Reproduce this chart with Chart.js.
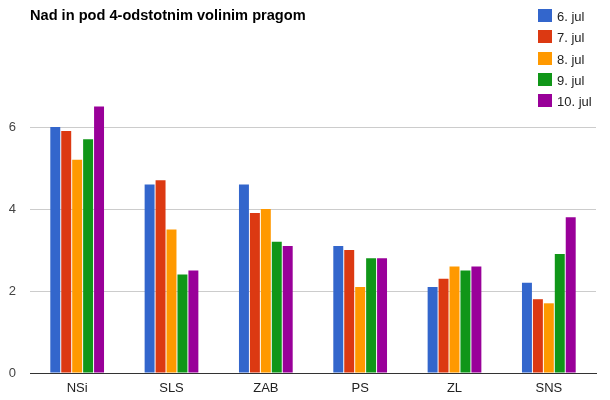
<!DOCTYPE html>
<html>
<head>
<meta charset="utf-8">
<script src="https://cdn.jsdelivr.net/npm/chart.js@4.4.1/dist/chart.umd.min.js"></script>
<style>
  html, body { margin: 0; padding: 0; background: #fff; }
  #wrap { position: relative; width: 610px; height: 400px; }
  #title { position: absolute; left: 30px; top: 7px; font: bold 14.6px "Liberation Sans", Arial, sans-serif; color: #000; white-space: nowrap; }
  #legend { position: absolute; left: 538px; top: 9px; font: 13px "Liberation Sans", Arial, sans-serif; color: #222; }
  .li { height: 21.3px; display: flex; align-items: flex-start; }
  .sw { width: 14px; height: 13px; margin-right: 5px; }
  .lt { line-height: 15px; }
</style>
</head>
<body>
<div id="wrap">
  <canvas id="c" width="610" height="400"></canvas>
  <div id="title"></div>
  <div id="legend"></div>
</div>
<script>
const title = "Nad in pod 4-odstotnim volinim pragom";
const categories = ["NSi", "SLS", "ZAB", "PS", "ZL", "SNS"];
const seriesNames = ["6. jul", "7. jul", "8. jul", "9. jul", "10. jul"];
const jul6  = [6.0, 4.6, 4.6, 3.1, 2.1, 2.2];
const jul7  = [5.9, 4.7, 3.9, 3.0, 2.3, 1.8];
const jul8  = [5.2, 3.5, 4.0, 2.1, 2.6, 1.7];
const jul9  = [5.7, 2.4, 3.2, 2.8, 2.5, 2.9];
const jul10 = [6.5, 2.5, 3.1, 2.8, 2.6, 3.8];
const yTicks = [0, 2, 4, 6];
const colors = ["#3366cc", "#dc3912", "#ff9900", "#109618", "#990099"];

const seriesValues = [jul6, jul7, jul8, jul9, jul10];
const datasets = seriesNames.map((n, i) => ({
  label: n,
  data: seriesValues[i],
  backgroundColor: colors[i],
  borderWidth: 0,
  categoryPercentage: 0.58,
  barPercentage: 0.91
}));

document.getElementById('title').textContent = title;
const leg = document.getElementById('legend');
seriesNames.forEach((n, i) => {
  const d = document.createElement('div'); d.className = 'li';
  const s = document.createElement('div'); s.className = 'sw'; s.style.background = colors[i];
  const t = document.createElement('div'); t.className = 'lt'; t.textContent = n;
  d.appendChild(s); d.appendChild(t); leg.appendChild(d);
});

new Chart(document.getElementById('c'), {
  type: 'bar',
  data: { labels: categories, datasets },
  options: {
    responsive: false,
    animation: false,
    layout: { padding: { top: 45, right: 14, bottom: 0, left: 0 } },
    plugins: { legend: { display: false }, title: { display: false }, tooltip: { enabled: false } },
    scales: {
      x: {
        afterFit: (scale) => { scale.height = 27; },
        grid: { display: false, drawTicks: false },
        border: { display: true, color: '#333', width: 1 },
        ticks: { color: '#222', font: { family: 'Liberation Sans, Arial', size: 13 }, padding: 8 }
      },
      y: {
        min: 0, max: 8,
        afterBuildTicks: (scale) => { scale.ticks = yTicks.map(v => ({ value: v })); },
        afterFit: (scale) => { scale.width = 30; },
        grid: { color: (ctx) => ctx.tick && ctx.tick.value === 0 ? '#333' : '#ccc', drawTicks: false },
        border: { display: false },
        ticks: { color: '#444', font: { family: 'Liberation Sans, Arial', size: 13 }, padding: 14 }
      }
    }
  }
});
</script>
</body>
</html>
